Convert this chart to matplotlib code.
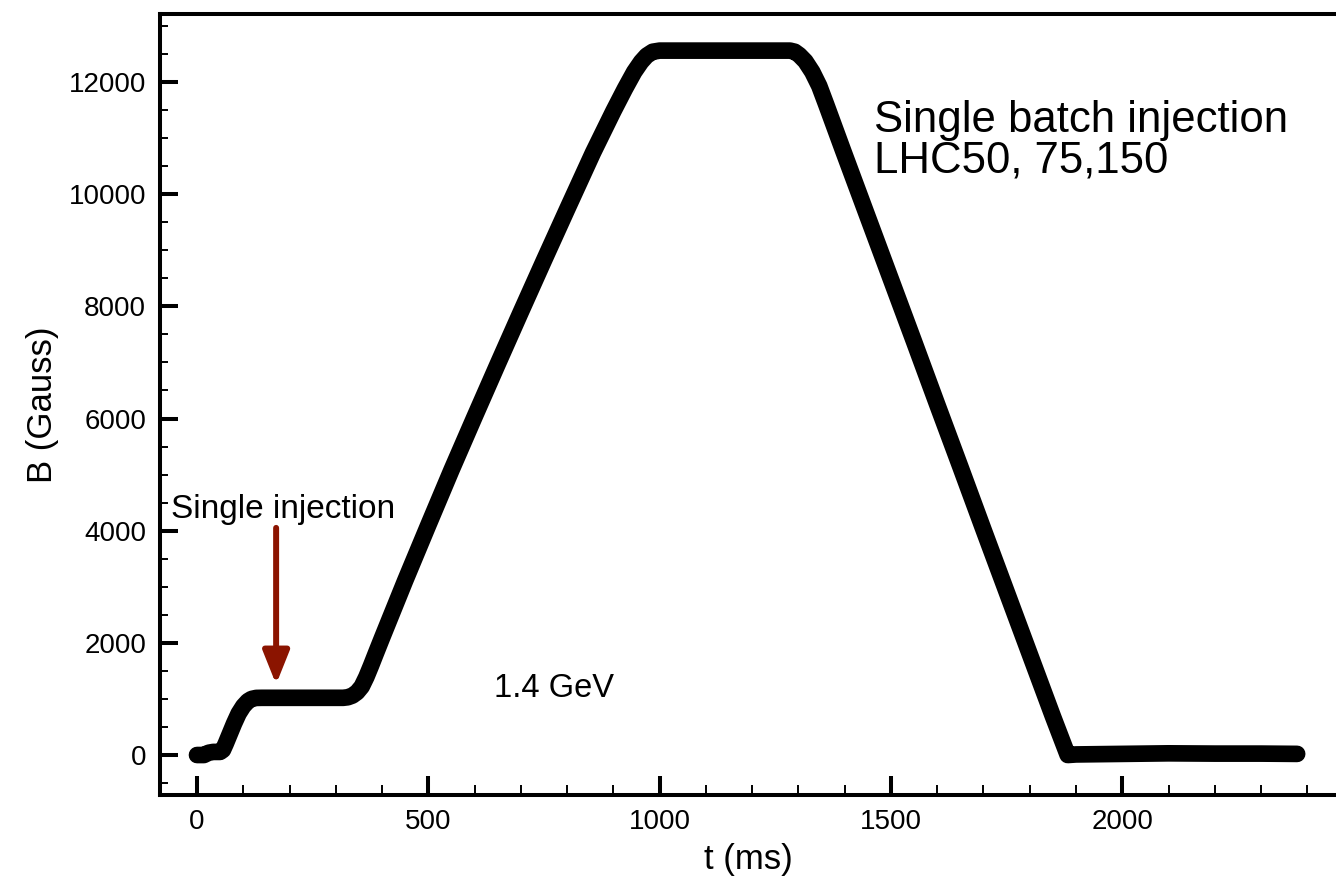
import matplotlib
matplotlib.use("Agg")
import matplotlib.pyplot as plt
from matplotlib.ticker import MultipleLocator

# magnetic cycle (t in ms, B in Gauss)
t_ms = [0, 15, 25, 35, 50, 56, 62, 70, 80, 90, 100, 110, 118, 128, 140,
        200, 316, 326, 336, 346, 356, 366, 376, 386, 400, 450, 500, 550,
        600, 650, 700, 750, 800, 856, 900, 925, 945, 960, 972, 985, 1000,
        1100, 1200, 1282, 1292, 1302, 1315, 1330, 1345, 1360, 1396, 1450,
        1500, 1550, 1600, 1650, 1700, 1750, 1800, 1850, 1882, 1900, 2000,
        2100, 2200, 2300, 2378]
b_gauss = [0, 0, 40, 55, 55, 90, 200, 360, 560, 740, 870, 960, 1000, 1018,
           1020, 1020, 1020, 1030, 1060, 1120, 1220, 1390, 1590, 1800, 2090,
           3110, 4100, 5080, 6030, 6970, 7900, 8820, 9730, 10740, 11480,
           11880, 12180, 12360, 12470, 12540, 12560, 12560, 12560, 12560,
           12540, 12480, 12370, 12180, 11930, 11600, 10790, 9590, 8480, 7370,
           6250, 5140, 4020, 2910, 1800, 690, 0, 10, 20, 30, 25, 25, 20]

x_label = "t (ms)"
y_label = "B (Gauss)"
note_main = ["Single batch injection", "LHC50, 75,150"]
note_inj = "Single injection"
note_energy = "1.4 GeV"
arrow_from = (171, 4050)
arrow_to = (171, 1260)

plt.rcParams['font.family'] = ['Liberation Sans', 'DejaVu Sans']

fig = plt.figure(figsize=(13.36, 8.84), dpi=100)
ax = fig.add_axes([160 / 1336, 1 - 795 / 884, 1 - 160 / 1336, (795 - 14) / 884])

ax.plot(t_ms, b_gauss, color='black', lw=12, solid_capstyle='round',
        solid_joinstyle='round')

ax.annotate('', xy=arrow_to, xytext=arrow_from,
            arrowprops=dict(arrowstyle='-|>,head_length=1.0,head_width=0.4',
                            mutation_scale=20, lw=4.3, color='#8b1400',
                            shrinkA=0, shrinkB=0))

ax.text(-56, 4226, note_inj, fontsize=24, va='baseline', ha='left')
ax.text(642, 1034, note_energy, fontsize=23.5, va='baseline', ha='left')
ax.text(1463, 11109, note_main[0], fontsize=31.5, va='baseline', ha='left')
ax.text(1463, 10378, note_main[1], fontsize=31.5, va='baseline', ha='left')

ax.set_xlim(-80, 2462)
ax.set_ylim(-713, 13213)
ax.xaxis.set_major_locator(MultipleLocator(500))
ax.xaxis.set_minor_locator(MultipleLocator(100))
ax.yaxis.set_major_locator(MultipleLocator(2000))
ax.yaxis.set_minor_locator(MultipleLocator(500))
ax.tick_params(which='major', direction='in', length=13.5, width=2.9,
               labelsize=20, pad=10)
ax.tick_params(which='minor', direction='in', length=7, width=1.4)
ax.tick_params(axis='y', which='major', length=13)
ax.tick_params(axis='y', which='minor', length=6)

for side in ['left', 'bottom', 'top']:
    ax.spines[side].set_linewidth(2.9)
ax.spines['right'].set_visible(False)

ax.set_xlabel(x_label, fontsize=25, labelpad=6)
ax.set_ylabel(y_label, fontsize=25, labelpad=7)

fig.savefig("out.png", dpi=100)
